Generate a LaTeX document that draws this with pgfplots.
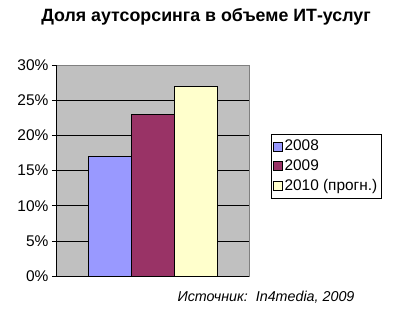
\documentclass[border=0pt]{standalone}
\usepackage{pgfplots}
\pgfplotsset{compat=1.18}
\usepackage{fontspec}
\setmainfont{Liberation Sans}
\definecolor{bgray}{HTML}{C0C0C0}
\definecolor{c1}{HTML}{9999FF}
\definecolor{c2}{HTML}{993366}
\definecolor{c3}{HTML}{FFFFCC}
\begin{document}
\begin{tikzpicture}[x=1pt,y=1pt]
\useasboundingbox (0,0) rectangle (400,322);
\node[font=\bfseries\fontsize{17.8}{20}\selectfont] at (206,305) {Доля аутсорсинга в объеме ИТ-услуг};
\begin{axis}[
  at={(56pt,46pt)}, anchor=south west,
  scale only axis, width=193pt, height=211pt,
  ybar, bar width=1, bar shift=0pt,
  xmin=-2.25, xmax=2.25, ymin=0, ymax=30,
  xtick=\empty,
  ytick={0,5,10,15,20,25,30}, ytick pos=left,
  yticklabel={\pgfmathprintnumber{\tick}\%},
  /pgf/number format/assume math mode=true,
  ticklabel style={font=\fontsize{15.5}{17}\selectfont},
  tick align=outside, major tick length=4pt,
  tick style={black, line width=0.6pt},
  ymajorgrids, grid style={black, line width=0.6pt},
  axis background/.style={fill=bgray},
  axis line style={draw=gray},
  legend style={at={(1.114,0.673)}, anchor=north west, draw=black, fill=white,
    font=\fontsize{15.4}{17}\selectfont, row sep=3.5pt, inner xsep=2pt, inner ysep=4pt,
    legend cell align=left},
  legend image code/.code={\draw[#1, draw=black] (0pt,-4.5pt) rectangle (9pt,4.5pt);},
  clip=false,
]
\addplot[fill=c1, draw=black] coordinates {(-1,17)};
\addplot[fill=c2, draw=black] coordinates {(0,23)};
\addplot[fill=c3, draw=black] coordinates {(1,27)};
\legend{2008,2009,2010 (прогн.)}
\draw[black, line width=0.6pt] (rel axis cs:0,0) -- (rel axis cs:0,1);
\draw[black, line width=0.6pt] (rel axis cs:0,0) -- (rel axis cs:1,0);
\end{axis}
\node[font=\itshape\fontsize{14.3}{16}\selectfont, anchor=west] at (174,25) {Источник:\ \ In4media, 2009};
\end{tikzpicture}
\end{document}
